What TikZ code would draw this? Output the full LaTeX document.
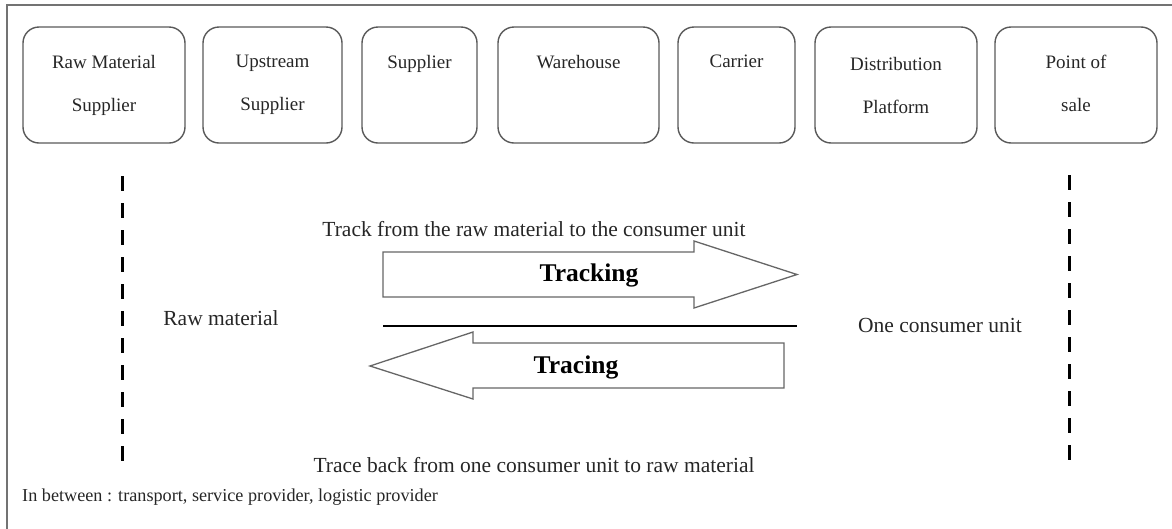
\documentclass[tikz,border=0pt]{standalone}
\usepackage{fontspec}
\setmainfont{Liberation Serif}
\begin{document}
\begin{tikzpicture}[x=1pt,y=-1pt,
  stage/.style={draw=black!65,line width=1.4pt,rounded corners=16pt,
    minimum height=116pt,inner sep=0pt,align=center,text=black!85,
    font=\fontsize{19}{43}\selectfont},
  bigarrow/.style={draw=black!60,line width=1.3pt,fill=white},
  caption/.style={inner sep=0pt,text=black!85,font=\fontsize{21.5}{26}\selectfont},
  arrowlabel/.style={inner sep=0pt,font=\bfseries\fontsize{25.5}{30}\selectfont},
  divider/.style={black,line width=3pt,dash pattern=on 15pt off 12pt}]
\useasboundingbox (0,0) rectangle (1172,528);

% frame
\draw[black!55,line width=1.8pt] (7,540) -- (7,5) -- (1180,5);

% supply chain stages
\node[stage,minimum width=162pt] (rms) at (104,85) {Raw Material\\Supplier};
\node[stage,minimum width=139pt] (ups) at (272.5,85) {Upstream\\Supplier};
\node[stage,minimum width=115pt] (sup) at (419.5,85) {Supplier\\\vphantom{Sp}};
\node[stage,minimum width=161pt] (wh) at (578.5,85) {Warehouse\\\vphantom{Sp}};
\node[stage,minimum width=117pt] (car) at (736.5,85) {Carrier\\\vphantom{Sp}};
\node[stage,minimum width=162pt] (dp) at (896,85) {Distribution\\Platform};
\node[stage,minimum width=162pt] (pos) at (1076,85) {Point of\\sale\vphantom{p}};

% vertical dashed limits
\coordinate (l1) at (122,176);
\coordinate (l2) at (122,461);
\coordinate (r1) at (1069,175);
\coordinate (r2) at (1069,460);
\draw[divider] (l1) -- (l2);
\draw[divider] (r1) -- (r2);

% tracking arrow (forward)
\draw[bigarrow] (383,252) -- (694,252) -- (694,241) -- (797,274.5) -- (694,308)
  -- (694,297) -- (383,297) -- cycle;
\node[arrowlabel] (tracking) at (589,275) {Tracking};

% separator
\coordinate (s1) at (383,326);
\coordinate (s2) at (797,326);
\draw[black,line width=2.8pt] (s1) -- (s2);

% tracing arrow (backward)
\draw[bigarrow] (784,343) -- (473,343) -- (473,332) -- (370,366) -- (473,399)
  -- (473,388) -- (784,388) -- cycle;
\node[arrowlabel] (tracing) at (576,367) {Tracing};

% texts
\node[caption] (track) at (534,229) {Track from the raw material to the consumer unit};
\node[caption] (trace) at (534,465) {Trace back from one consumer unit to raw material};
\node[caption] (raw) at (221,318) {Raw material};
\node[caption] (unit) at (940,325) {One consumer unit};
\node[caption,anchor=west,font=\fontsize{18.2}{22}\selectfont] (between) at (22,497)
  {In between : transport, service provider, logistic provider};
\end{tikzpicture}
\end{document}
